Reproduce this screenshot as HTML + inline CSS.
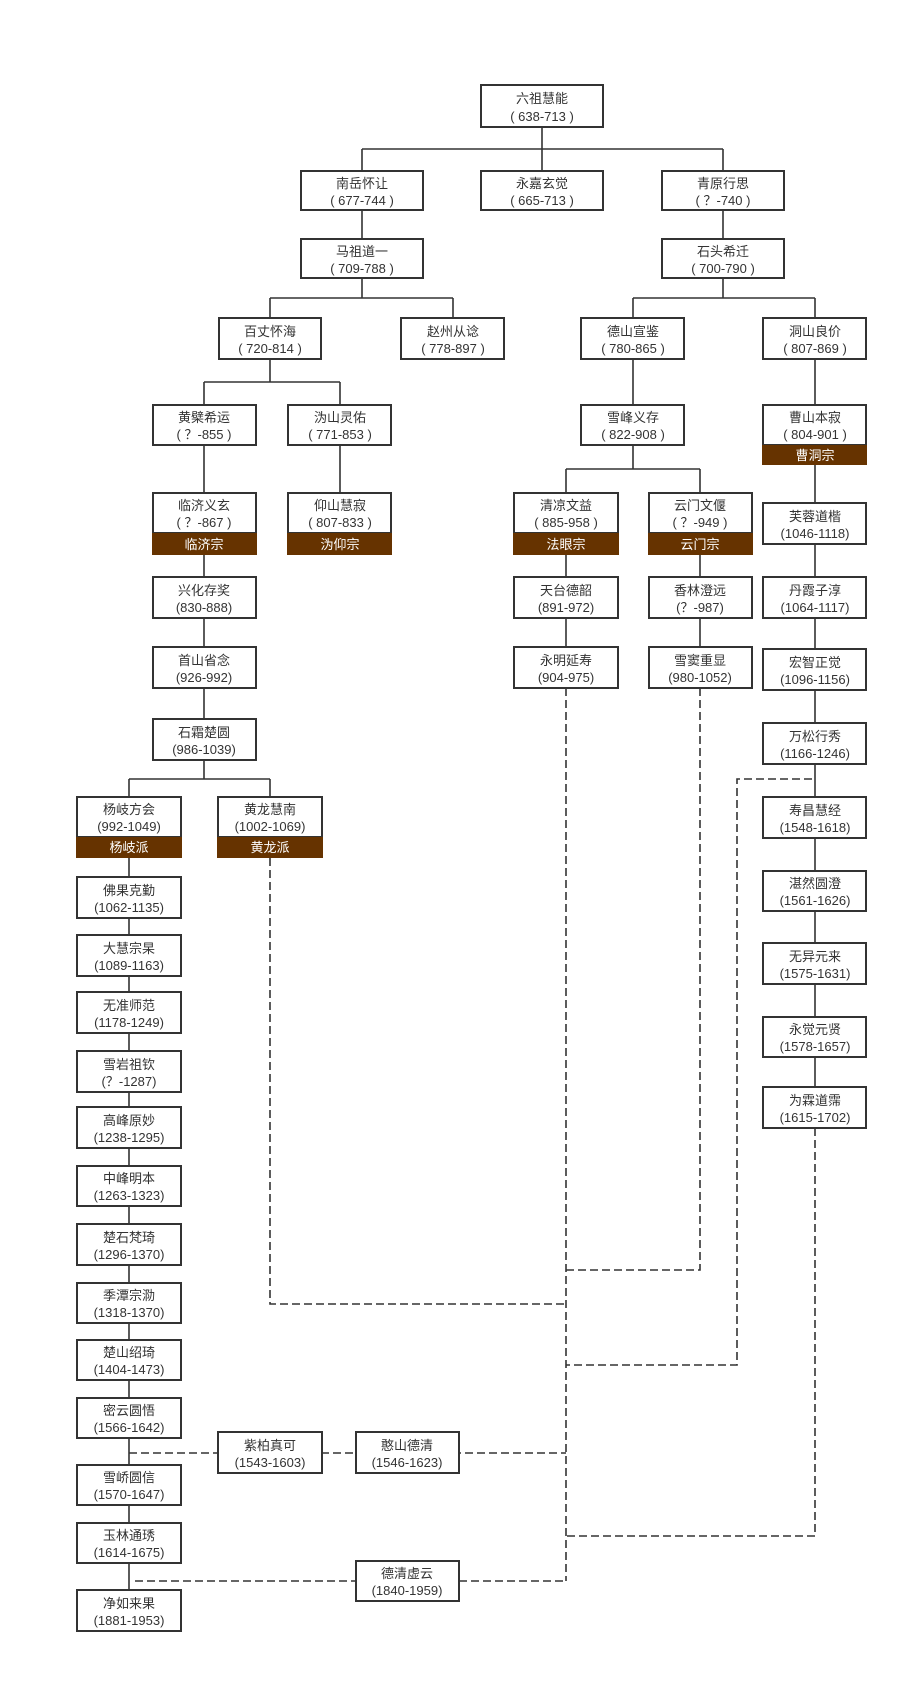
<!DOCTYPE html>
<html><head><meta charset="utf-8"><style>
html,body{margin:0;padding:0;background:#fff;}
svg{display:block;}
text{font-family:"Liberation Sans","Noto Sans CJK SC",sans-serif;font-size:13px;fill:#333;text-anchor:middle;}
.b{fill:#fff;stroke:#333;stroke-width:2;}
.band{fill:#663300;}
.bt{fill:#fff;}
.s{stroke:#333;stroke-width:1.6;fill:none;}
.d{stroke:#333;stroke-width:1.6;fill:none;stroke-dasharray:8,4;}
</style></head><body>
<svg width="922" height="1693" viewBox="0 0 922 1693" xmlns="http://www.w3.org/2000/svg">
<!-- solid connectors -->
<path class="s" d="M542 127V149M362 149H723M362 149V171M542 149V171M723 149V171
M362 210V239M362 278V298M270 298H453M270 298V318M453 298V318
M723 210V239M723 278V298M633 298H815M633 298V318M815 298V318
M270 359V382M204 382H340M204 382V405M340 382V405
M204 445V719M340 445V493
M633 359V469M566 469H700M566 469V493M700 469V493
M566 555V647M700 555V647
M204 760V779M129 779H270M129 779V797M270 779V797
M129 858V1590
M815 359V1087"/>
<!-- dashed connectors -->
<path class="d" d="M270 858V1304H566M700 688V1270H566M566 688V1581
M812 779H737V1365H566M815 1128V1536H566
M129 1453H566M135 1581H566"/>
<g id="nodes">
<rect class="b" x="481" y="85" width="122" height="42"/><text x="542" y="103">六祖慧能</text><text x="542" y="121">( 638-713 )</text>
<rect class="b" x="301" y="171" width="122" height="39"/><text x="362" y="188">南岳怀让</text><text x="362" y="205">( 677-744 )</text>
<rect class="b" x="481" y="171" width="122" height="39"/><text x="542" y="188">永嘉玄觉</text><text x="542" y="205">( 665-713 )</text>
<rect class="b" x="662" y="171" width="122" height="39"/><text x="723" y="188">青原行思</text><text x="723" y="205">( ？-740 )</text>
<rect class="b" x="301" y="239" width="122" height="39"/><text x="362" y="256">马祖道一</text><text x="362" y="273">( 709-788 )</text>
<rect class="b" x="662" y="239" width="122" height="39"/><text x="723" y="256">石头希迁</text><text x="723" y="273">( 700-790 )</text>
<rect class="b" x="219" y="318" width="102" height="41"/><text x="270" y="336">百丈怀海</text><text x="270" y="353">( 720-814 )</text>
<rect class="b" x="401" y="318" width="103" height="41"/><text x="453" y="336">赵州从谂</text><text x="453" y="353">( 778-897 )</text>
<rect class="b" x="581" y="318" width="103" height="41"/><text x="633" y="336">德山宣鉴</text><text x="633" y="353">( 780-865 )</text>
<rect class="b" x="763" y="318" width="103" height="41"/><text x="815" y="336">洞山良价</text><text x="815" y="353">( 807-869 )</text>
<rect class="b" x="153" y="405" width="103" height="40"/><text x="204" y="422">黄檗希运</text><text x="204" y="439">( ？-855 )</text>
<rect class="b" x="288" y="405" width="103" height="40"/><text x="340" y="422">沩山灵佑</text><text x="340" y="439">( 771-853 )</text>
<rect class="b" x="581" y="405" width="103" height="40"/><text x="633" y="422">雪峰义存</text><text x="633" y="439">( 822-908 )</text>
<rect class="b" x="763" y="405" width="103" height="40"/><text x="815" y="422">曹山本寂</text><text x="815" y="439">( 804-901 )</text>
<rect class="band" x="762" y="445" width="105" height="20"/><text class="bt" x="815" y="460">曹洞宗</text>
<rect class="b" x="153" y="493" width="103" height="40"/><text x="204" y="510">临济义玄</text><text x="204" y="527">( ？-867 )</text>
<rect class="band" x="152" y="533" width="105" height="22"/><text class="bt" x="204" y="549">临济宗</text>
<rect class="b" x="288" y="493" width="103" height="40"/><text x="340" y="510">仰山慧寂</text><text x="340" y="527">( 807-833 )</text>
<rect class="band" x="287" y="533" width="105" height="22"/><text class="bt" x="340" y="549">沩仰宗</text>
<rect class="b" x="514" y="493" width="104" height="40"/><text x="566" y="510">清凉文益</text><text x="566" y="527">( 885-958 )</text>
<rect class="band" x="513" y="533" width="106" height="22"/><text class="bt" x="566" y="549">法眼宗</text>
<rect class="b" x="649" y="493" width="103" height="40"/><text x="700" y="510">云门文偃</text><text x="700" y="527">( ？-949 )</text>
<rect class="band" x="648" y="533" width="105" height="22"/><text class="bt" x="700" y="549">云门宗</text>
<rect class="b" x="763" y="503" width="103" height="41"/><text x="815" y="521">芙蓉道楷</text><text x="815" y="538">(1046-1118)</text>
<rect class="b" x="153" y="577" width="103" height="41"/><text x="204" y="595">兴化存奖</text><text x="204" y="612">(830-888)</text>
<rect class="b" x="514" y="577" width="104" height="41"/><text x="566" y="595">天台德韶</text><text x="566" y="612">(891-972)</text>
<rect class="b" x="649" y="577" width="103" height="41"/><text x="700" y="595">香林澄远</text><text x="700" y="612">(？-987)</text>
<rect class="b" x="763" y="577" width="103" height="41"/><text x="815" y="595">丹霞子淳</text><text x="815" y="612">(1064-1117)</text>
<rect class="b" x="153" y="647" width="103" height="41"/><text x="204" y="665">首山省念</text><text x="204" y="682">(926-992)</text>
<rect class="b" x="514" y="647" width="104" height="41"/><text x="566" y="665">永明延寿</text><text x="566" y="682">(904-975)</text>
<rect class="b" x="649" y="647" width="103" height="41"/><text x="700" y="665">雪窦重显</text><text x="700" y="682">(980-1052)</text>
<rect class="b" x="763" y="649" width="103" height="41"/><text x="815" y="667">宏智正觉</text><text x="815" y="684">(1096-1156)</text>
<rect class="b" x="153" y="719" width="103" height="41"/><text x="204" y="737">石霜楚圆</text><text x="204" y="754">(986-1039)</text>
<rect class="b" x="763" y="723" width="103" height="41"/><text x="815" y="741">万松行秀</text><text x="815" y="758">(1166-1246)</text>
<rect class="b" x="77" y="797" width="104" height="40"/><text x="129" y="814">杨岐方会</text><text x="129" y="831">(992-1049)</text>
<rect class="band" x="76" y="837" width="106" height="21"/><text class="bt" x="129" y="852">杨岐派</text>
<rect class="b" x="218" y="797" width="104" height="40"/><text x="270" y="814">黄龙慧南</text><text x="270" y="831">(1002-1069)</text>
<rect class="band" x="217" y="837" width="106" height="21"/><text class="bt" x="270" y="852">黄龙派</text>
<rect class="b" x="763" y="797" width="103" height="41"/><text x="815" y="815">寿昌慧经</text><text x="815" y="832">(1548-1618)</text>
<rect class="b" x="763" y="871" width="103" height="40"/><text x="815" y="888">湛然圆澄</text><text x="815" y="905">(1561-1626)</text>
<rect class="b" x="763" y="943" width="103" height="41"/><text x="815" y="961">无异元来</text><text x="815" y="978">(1575-1631)</text>
<rect class="b" x="763" y="1017" width="103" height="40"/><text x="815" y="1034">永觉元贤</text><text x="815" y="1051">(1578-1657)</text>
<rect class="b" x="763" y="1087" width="103" height="41"/><text x="815" y="1105">为霖道霈</text><text x="815" y="1122">(1615-1702)</text>
<rect class="b" x="77" y="877" width="104" height="41"/><text x="129" y="895">佛果克勤</text><text x="129" y="912">(1062-1135)</text>
<rect class="b" x="77" y="935" width="104" height="41"/><text x="129" y="953">大慧宗杲</text><text x="129" y="970">(1089-1163)</text>
<rect class="b" x="77" y="992" width="104" height="41"/><text x="129" y="1010">无准师范</text><text x="129" y="1027">(1178-1249)</text>
<rect class="b" x="77" y="1051" width="104" height="41"/><text x="129" y="1069">雪岩祖钦</text><text x="129" y="1086">(？-1287)</text>
<rect class="b" x="77" y="1107" width="104" height="41"/><text x="129" y="1125">高峰原妙</text><text x="129" y="1142">(1238-1295)</text>
<rect class="b" x="77" y="1166" width="104" height="40"/><text x="129" y="1183">中峰明本</text><text x="129" y="1200">(1263-1323)</text>
<rect class="b" x="77" y="1224" width="104" height="41"/><text x="129" y="1242">楚石梵琦</text><text x="129" y="1259">(1296-1370)</text>
<rect class="b" x="77" y="1283" width="104" height="40"/><text x="129" y="1300">季潭宗泐</text><text x="129" y="1317">(1318-1370)</text>
<rect class="b" x="77" y="1340" width="104" height="40"/><text x="129" y="1357">楚山绍琦</text><text x="129" y="1374">(1404-1473)</text>
<rect class="b" x="77" y="1398" width="104" height="40"/><text x="129" y="1415">密云圆悟</text><text x="129" y="1432">(1566-1642)</text>
<rect class="b" x="77" y="1465" width="104" height="40"/><text x="129" y="1482">雪峤圆信</text><text x="129" y="1499">(1570-1647)</text>
<rect class="b" x="77" y="1523" width="104" height="40"/><text x="129" y="1540">玉林通琇</text><text x="129" y="1557">(1614-1675)</text>
<rect class="b" x="77" y="1590" width="104" height="41"/><text x="129" y="1608">净如来果</text><text x="129" y="1625">(1881-1953)</text>
<rect class="b" x="218" y="1432" width="104" height="41"/><text x="270" y="1450">紫柏真可</text><text x="270" y="1467">(1543-1603)</text>
<rect class="b" x="356" y="1432" width="103" height="41"/><text x="407" y="1450">憨山德清</text><text x="407" y="1467">(1546-1623)</text>
<rect class="b" x="356" y="1561" width="103" height="40"/><text x="407" y="1578">德清虚云</text><text x="407" y="1595">(1840-1959)</text>
</g>
</svg>
</body></html>
